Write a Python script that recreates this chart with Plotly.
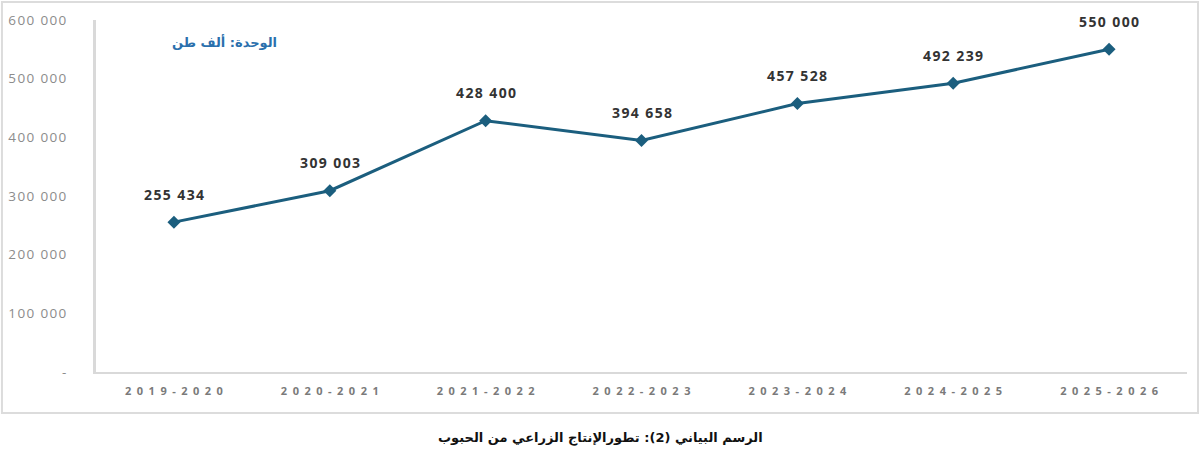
import plotly.graph_objects as go

categories = ["2019-2020", "2020-2021", "2021-2022", "2022-2023", "2023-2024", "2024-2025", "2025-2026"]
production = [255434, 309003, 428400, 394658, 457528, 492239, 550000]
value_labels = ["255 434", "309 003", "428 400", "394 658", "457 528", "492 239", "550 000"]
y_tickvals = [0, 100000, 200000, 300000, 400000, 500000, 600000]
y_ticktext = ["-", "100 000", "200 000", "300 000", "400 000", "500 000", "600 000"]
unit_text = "الوحدة: ألف طن"
caption = "الرسم البياني (2): تطورالإنتاج الزراعي من الحبوب"

HAIR = "\u200a"
x_ticktext = ["\u2002".join(c) for c in categories]
y_ticktext_sp = [HAIR.join(t) for t in y_ticktext]

LINE = "#1b5e7e"

fig = go.Figure()
fig.add_trace(go.Scatter(
    x=categories, y=production, mode="lines+markers",
    line=dict(color=LINE, width=3),
    marker=dict(symbol="diamond", size=10, color=LINE),
    hoverinfo="skip", showlegend=False,
))

for c, v, t in zip(categories, production, value_labels):
    fig.add_annotation(x=c, y=v, text="<b>%s</b>" % HAIR.join(t), showarrow=False,
                       yshift=28, font=dict(size=14, color="#333333", family="Open Sans"))

fig.add_annotation(xref="paper", yref="paper", x=0.068, y=0.966, text="<b>%s</b>" % unit_text,
                   showarrow=False, font=dict(size=13, color="#2b70ad", family="DejaVu Sans"))
fig.add_annotation(xref="paper", yref="paper", x=0.462, y=-0.216, text="<b>%s</b>" % caption,
                   showarrow=False, font=dict(size=13, color="#111111", family="DejaVu Sans"))

# outer frame
fig.add_shape(type="rect", xref="paper", yref="paper", x0=-0.0862, x1=1.0101, y0=-0.1165, y1=1.051,
              line=dict(color="#dcdcdc", width=2), layer="below")

fig.update_layout(
    width=1200, height=461,
    margin=dict(l=96, r=13, t=20, b=89),
    paper_bgcolor="white", plot_bgcolor="white",
    font=dict(family="Open Sans, DejaVu Sans", color="#808080"),
    xaxis=dict(type="category", range=[-0.5, 6.5], tickvals=categories, ticktext=x_ticktext,
               tickfont=dict(size=11, color="#7a7a7a", family="Open Sans", weight="bold"),
               showline=True, linecolor="#d9d9d9", linewidth=2, showgrid=False,
               ticks="", ticklabelstandoff=8, automargin=False),
    yaxis=dict(range=[0, 600000], tickvals=y_tickvals, ticktext=y_ticktext_sp,
               tickfont=dict(size=13.5, color="#8c8c8c", family="Open Sans"),
               showline=True, linecolor="#d9d9d9", linewidth=3, showgrid=False,
               zeroline=False, ticks="", ticklabelstandoff=24, automargin=False),
)

fig.write_html("out.html", config={"displayModeBar": False},
               post_script="document.body.style.margin='0';")
